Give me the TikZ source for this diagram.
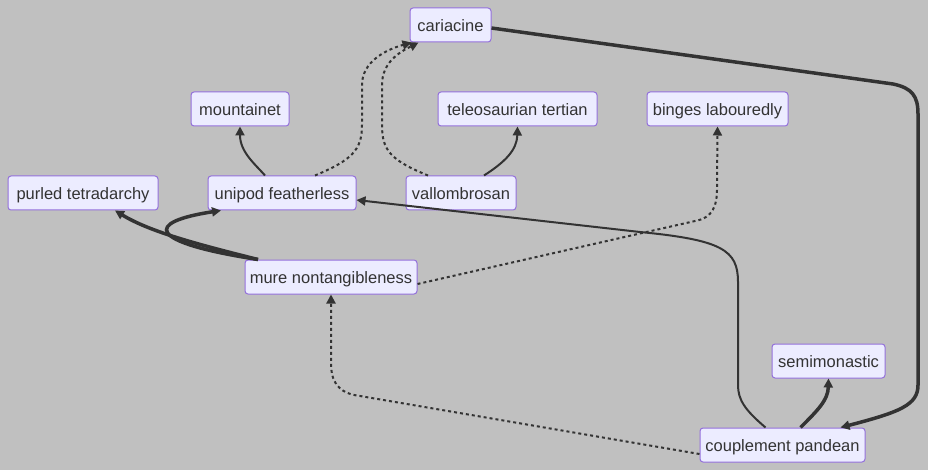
\documentclass[tikz,border=0pt]{standalone}
\usepackage{fontspec}
\setmainfont{Liberation Sans}
\usetikzlibrary{arrows.meta}
\definecolor{bg}{RGB}{192,192,192}
\definecolor{nodefill}{HTML}{ECECFF}
\definecolor{nodeborder}{HTML}{9370DB}
\definecolor{edgecol}{HTML}{333333}
\tikzset{
  box/.style={draw=nodeborder, fill=nodefill, line width=1pt, rounded corners=3pt,
    minimum height=34pt, inner sep=0pt, text height=15pt, text depth=2.4pt,
    text=edgecol, font=\fontsize{16.5}{19}\selectfont},
  normaledge/.style={draw=edgecol, line width=2pt, -{Triangle[length=9pt,width=9pt]}},
  thickedge/.style={draw=edgecol, line width=3.5pt, -{Triangle[length=9pt,width=9pt]}},
  dottededge/.style={draw=edgecol, line width=2pt, dash pattern=on 3pt off 3pt, -{Triangle[length=9pt,width=9pt]}},
}
\begin{document}
\begin{tikzpicture}[x=1pt,y=-1pt]
\fill[bg] (0,0) rectangle (928,470);
\useasboundingbox (0,0) rectangle (928,470);

\node[box, minimum width=81pt] (cariacine) at (450.5,25) {cariacine};
\node[box, minimum width=98pt] (mountainet) at (240,109) {mountainet};
\node[box, minimum width=159pt] (teleo) at (517.5,109) {teleosaurian tertian};
\node[box, minimum width=141pt] (binges) at (717.5,109) {binges labouredly};
\node[box, minimum width=150pt] (purled) at (83,193) {purled tetradarchy};
\node[box, minimum width=148pt] (unipod) at (282,193) {unipod featherless};
\node[box, minimum width=110pt] (vallo) at (461,193) {vallombrosan};
\node[box, minimum width=172pt] (mure) at (331,277) {mure nontangibleness};
\node[box, minimum width=113pt] (semi) at (828.5,361) {semimonastic};
\node[box, minimum width=165pt] (couple) at (782.5,445) {couplement pandean};

% cariacine -> couplement
\draw[thickedge] ([yshift=-3pt]cariacine.east) -- (893,84)
  .. controls (912,88) and (918,96) .. (918,114) -- (918,385)
  .. controls (918,405) and (900,412) .. ([xshift=58pt]couple.north);
% unipod -> mountainet
\draw[normaledge] ([xshift=-17pt]unipod.north) .. controls (255,164) and (240,152) .. (mountainet.south);
% unipod -> cariacine
\draw[dottededge] ([xshift=33pt]unipod.north) .. controls (352,160) and (362,150) .. (362,125)
  -- (362,85) .. controls (362,62) and (385,50) .. ([xshift=-39pt]cariacine.south);
% vallombrosan -> cariacine
\draw[dottededge] ([xshift=-33pt]vallo.north) .. controls (390,160) and (382,150) .. (382,125)
  -- (382,85) .. controls (382,62) and (400,52) .. ([xshift=-32pt]cariacine.south);
% vallombrosan -> teleosaurian
\draw[normaledge] ([xshift=23pt]vallo.north) .. controls (505,162) and (517,150) .. (teleo.south);
% mure -> purled
\draw[thickedge] ([xshift=-73pt]mure.north) .. controls (200,245) and (150,232) .. ([xshift=32pt]purled.south);
% mure -> unipod
\draw[thickedge] ([xshift=-73pt]mure.north) .. controls (145,242) and (145,222) .. ([xshift=-61pt]unipod.south);
% mure -> binges
\draw[dottededge] ([yshift=-7pt]mure.east) -- (695,221)
  .. controls (713,218) and (717,205) .. (717,190) -- (binges.south);
% couplement -> unipod
\draw[normaledge] ([xshift=-17pt]couple.north) .. controls (745,410) and (738,400) .. (738,385)
  -- (738,282) .. controls (738,250) and (722,240) .. (640,232) -- ([yshift=-7pt]unipod.east);
% couplement -> semimonastic
\draw[thickedge] ([xshift=18pt]couple.north) .. controls (818,410) and (828,400) .. (semi.south);
% couplement -> mure
\draw[dottededge] ([yshift=-9pt]couple.west) -- (360,396)
  .. controls (336,393) and (331,380) .. (331,362) -- (mure.south);
\end{tikzpicture}
\end{document}
